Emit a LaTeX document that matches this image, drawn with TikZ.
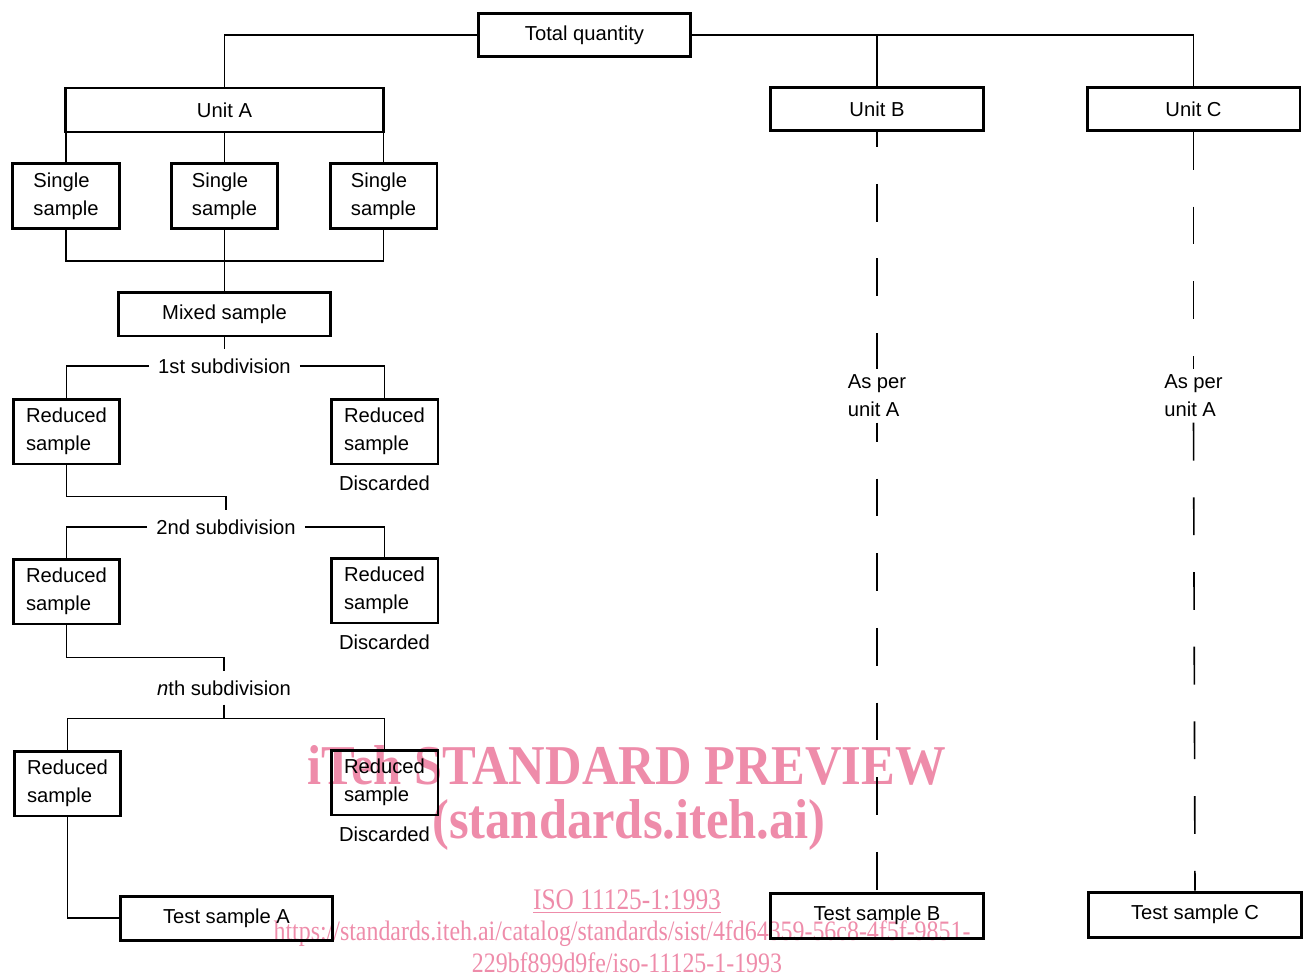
\documentclass[tikz,border=0pt]{standalone}
\usepackage{fontspec}
\setmainfont{Liberation Sans}
\newfontfamily\wmfont{Liberation Serif}
\usetikzlibrary{positioning}
\definecolor{wmpink}{RGB}{238,140,170}
\begin{document}
\begin{tikzpicture}[
        x=0.02cm, y=-0.02cm,
        every node/.style={font=\fontsize{11.5}{16}\selectfont},
        box/.style={draw, line width=1.7pt, align=left, inner sep=0pt},
        widebox/.style={box, minimum width=4.26cm, minimum height=0.86cm},
        smallbox/.style={box, minimum width=2.14cm, minimum height=1.3cm},
        sublabel/.style={inner sep=5pt},
        asper/.style={align=left, inner sep=3pt},
        link/.style={line width=0.7pt},
        dashlink/.style={line width=0.9pt, dash pattern=on 21.5pt off 21pt},
        wmtext/.style={text=wmpink, inner sep=0pt}
    ]
    \useasboundingbox (0,0) rectangle (1305,977);

    \node[wmtext, font=\wmfont\bfseries\fontsize{32}{32}\selectfont] (wmtitle) at (627,765) {\scalebox{0.9}[1]{iTeh STANDARD PREVIEW}};
    \node[wmtext, font=\wmfont\bfseries\fontsize{32}{32}\selectfont] (wmsite) at (629,825) {\scalebox{0.9}[1]{(standards.iteh.ai)}};
    \node[wmtext, font=\wmfont\fontsize{17}{17}\selectfont] (wmiso) at (627,902) {\scalebox{0.85}[1]{\underline{ISO 11125-1:1993}}};
    \node[wmtext, font=\wmfont\fontsize{16}{16}\selectfont] (wmurl1) at (622,934) {\scalebox{0.85}[1]{https://standards.iteh.ai/catalog/standards/sist/4fd64359-56c8-4f5f-9851-}};
    \node[wmtext, font=\wmfont\fontsize{16}{16}\selectfont] (wmurl2) at (627,963) {\scalebox{0.85}[1]{229bf899d9fe/iso-11125-1-1993}};

    \node[widebox] (total) at (584.5,35) {Total quantity};
    \node[box, minimum width=6.36cm, minimum height=0.88cm] (unita) at (224.5,110) {Unit A};
    \node[widebox] (unitb) at (877,109) {Unit B};
    \node[widebox] (unitc) at (1193.5,109) {Unit C};

    \node[smallbox] (single1) at (66,196) {Single\\sample};
    \node[smallbox] (single2) at (224.5,196) {Single\\sample};
    \node[smallbox] (single3) at (383.5,196) {Single\\sample};
    \node[widebox, minimum height=0.88cm] (mixed) at (224.5,314) {Mixed sample};

    \node[sublabel] (sub1) at (224.5,366) {1st subdivision};
    \node[smallbox] (red1a) at (66.5,431.5) {Reduced\\sample};
    \node[smallbox] (red1b) at (384.5,431.5) {Reduced\\sample};
    \node[below=2.5pt of red1b] (disc1) {Discarded};

    \node[sublabel] (sub2) at (226,527) {2nd subdivision};
    \node[smallbox] (red2a) at (66.5,591.5) {Reduced\\sample};
    \node[smallbox] (red2b) at (384.5,590.5) {Reduced\\sample};
    \node[below=2.5pt of red2b] (disc2) {Discarded};

    \node[sublabel] (subn) at (224,688) {\textit{n}th subdivision};
    \node[smallbox] (red3a) at (67.5,783.5) {Reduced\\sample};
    \node[smallbox] (red3b) at (384.5,782.5) {Reduced\\sample};
    \node[below=2.5pt of red3b] (disc3) {Discarded};

    \node[widebox, minimum height=0.88cm] (testa) at (226.5,918) {Test sample A};
    \node[widebox, minimum height=0.9cm] (testb) at (877,915.5) {Test sample B};
    \node[widebox, minimum height=0.9cm] (testc) at (1195,914.5) {Test sample C};

    \node[asper] (asperb) at (877,396) {As per\\unit A};
    \node[asper] (asperc) at (1193.5,396) {As per\\unit A};

    \draw[link] (total.west) -| (unita.north);
    \draw[link] (total.east) -| (unitc.north);
    \draw[link] (total.east -| unitb.north) -- (unitb.north);

    \foreach \s in {single1,single2,single3}
        \draw[link] (unita.south -| \s.north) -- (\s.north);
    \draw[link] (single1.south) -- ++(0,31) -| (single3.south);
    \draw[link] (single2.south) -- (mixed.north);

    \draw[link] (mixed.south) -- (sub1.north);
    \draw[link] (sub1.west) -| (red1a.north);
    \draw[link] (sub1.east) -| (red1b.north);
    \draw[link] (red1a.south) -- ++(0,31) -| (sub2.north);
    \draw[link] (sub2.west) -| (red2a.north);
    \draw[link] (sub2.east) -| (red2b.north);
    \draw[link] (red2a.south) -- ++(0,32) -| (subn.north);
    \draw[link] (subn.south) -- ++(0,14) coordinate (forkn);
    \draw[link] (red3a.north) |- (forkn) -| (red3b.north);
    \draw[link] (red3a.south) |- (testa.west);

    \draw[dashlink, dash phase=13pt] (unitb.south) -- (asperb.north);
    \draw[dashlink, dash phase=10.7pt] (asperb.south) -- (testb.north);
    \draw[dashlink] (unitc.south) -- (asperc.north);
    \draw[dashlink] (asperc.south) -- (testc.north);
\end{tikzpicture}
\end{document}
